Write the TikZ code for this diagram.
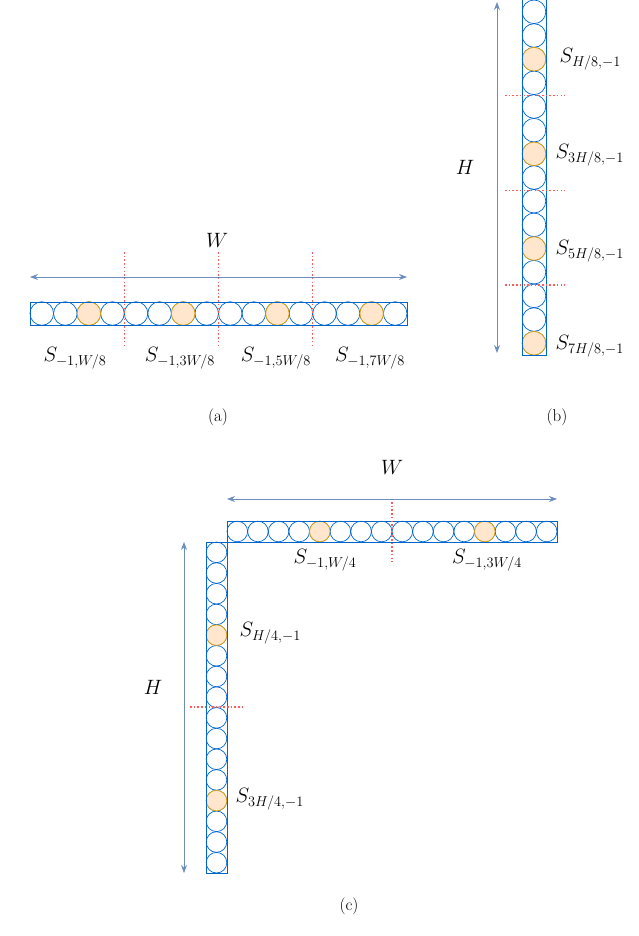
\documentclass[tikz,border=0pt]{standalone}
\usepackage{amsmath}
\usepackage{tikz}
\usepackage{xcolor}
\usetikzlibrary{arrows.meta}
\definecolor{barblue}{RGB}{0, 102, 204}
\definecolor{arrowblue}{RGB}{108, 142, 191}
\definecolor{pickorange}{RGB}{215, 155, 0}
\definecolor{pickfill}{RGB}{255, 230, 204}
\definecolor{splitred}{RGB}{255, 90, 90}
\begin{document}
\begin{tikzpicture}[x=1pt, y=-1pt,
    cell/.style={draw=barblue, line width=0.7pt},
    pick/.style={draw=pickorange, fill=pickfill, line width=0.7pt},
    bar/.style={draw=barblue, line width=1pt},
    split/.style={draw=splitred, line width=1.3pt, dash pattern=on 1.5pt off 2.2pt},
    span/.style={<->, >={Stealth[length=8pt,width=6pt]}, draw=arrowblue, line width=0.8pt},
    lab/.style={font=\fontsize{21}{25}\selectfont},
    caption/.style={font=\fontsize{17}{20}\selectfont}]
  \useasboundingbox (0,0) rectangle (638,936);

  % (a) horizontal strip
  \foreach \i in {0,...,15} {
    \pgfmathsetmacro{\cx}{30+(\i+0.5)*23.56}
    \draw[cell] (\cx,313.5) circle (11.78);
  }
  \foreach \i in {2,6,10,14} {
    \pgfmathsetmacro{\cx}{30+(\i+0.5)*23.56}
    \draw[pick] (\cx,313.5) circle (11.78);
  }
  \draw[bar] (30,302) rectangle (407,325);
  \foreach \k in {1,2,3} {
    \pgfmathsetmacro{\sx}{30+\k*94.25}
    \draw[split] (\sx,252) -- (\sx,348);
  }
  \coordinate (aL) at (30,277);
  \coordinate (aR) at (407,277);
  \draw[span] (aL) -- (aR);
  \node[lab] (aW) at (217,240) {$W$};
  \node[lab] (a1) at (75,358) {$S_{-1,W/8}$};
  \node[lab] (a2) at (180,358) {$S_{-1,3W/8}$};
  \node[lab] (a3) at (276,358) {$S_{-1,5W/8}$};
  \node[lab] (a4) at (370,358) {$S_{-1,7W/8}$};
  \node[caption] (capa) at (218,417) {(a)};

  % (b) vertical strip
  \foreach \i in {0,...,14} {
    \pgfmathsetmacro{\cy}{0+(\i+0.5)*23.67}
    \draw[cell] (534,\cy) circle (11.8);
  }
  \foreach \i in {2,6,10,14} {
    \pgfmathsetmacro{\cy}{0+(\i+0.5)*23.67}
    \draw[pick] (534,\cy) circle (11.8);
  }
  \draw[bar] (522,0) rectangle (546,355);
  \foreach \k in {1,2,3} {
    \pgfmathsetmacro{\sy}{\k*94.7+1}
    \draw[split] (505,\sy) -- (565,\sy);
  }
  \coordinate (bT) at (497,2);
  \coordinate (bB) at (497,353);
  \draw[span] (bT) -- (bB);
  \node[lab] (bH) at (465,167) {$H$};
  \node[lab, anchor=west] (b1) at (556,59) {$S_{H/8,-1}$};
  \node[lab, anchor=west] (b2) at (552,155) {$S_{3H/8,-1}$};
  \node[lab, anchor=west] (b3) at (552,251) {$S_{5H/8,-1}$};
  \node[lab, anchor=west] (b4) at (552,346) {$S_{7H/8,-1}$};
  \node[caption] (capb) at (557,417) {(b)};

  % (c) top strip
  \foreach \i in {0,...,15} {
    \pgfmathsetmacro{\cx}{227+(\i+0.5)*20.625}
    \draw[cell] (\cx,531.5) circle (10.3);
  }
  \foreach \i in {4,12} {
    \pgfmathsetmacro{\cx}{227+(\i+0.5)*20.625}
    \draw[pick] (\cx,531.5) circle (10.3);
  }
  \draw[bar] (227,521) rectangle (557,542);
  \draw[split] (392,502) -- (392,562);
  \coordinate (cL) at (227,499);
  \coordinate (cR) at (557,499);
  \draw[span] (cL) -- (cR);
  \node[lab] (cW) at (392,467) {$W$};
  \node[lab] (c1) at (325,560) {$S_{-1,W/4}$};
  \node[lab] (c2) at (487,560) {$S_{-1,3W/4}$};

  % (c) left strip
  \foreach \i in {0,...,15} {
    \pgfmathsetmacro{\cy}{542+(\i+0.5)*20.69}
    \draw[cell] (216.5,\cy) circle (10.3);
  }
  \foreach \i in {4,12} {
    \pgfmathsetmacro{\cy}{542+(\i+0.5)*20.69}
    \draw[pick] (216.5,\cy) circle (10.3);
  }
  \draw[bar] (206,542) rectangle (227,873);
  \draw[split] (190,707) -- (243,707);
  \coordinate (cT) at (184,542);
  \coordinate (cB) at (184,873);
  \draw[span] (cT) -- (cB);
  \node[lab] (cH) at (153,687) {$H$};
  \node[lab, anchor=west] (c3) at (236,633) {$S_{H/4,-1}$};
  \node[lab, anchor=west] (c4) at (232,799) {$S_{3H/4,-1}$};
  \node[caption] (capc) at (349,906) {(c)};
\end{tikzpicture}
\end{document}
